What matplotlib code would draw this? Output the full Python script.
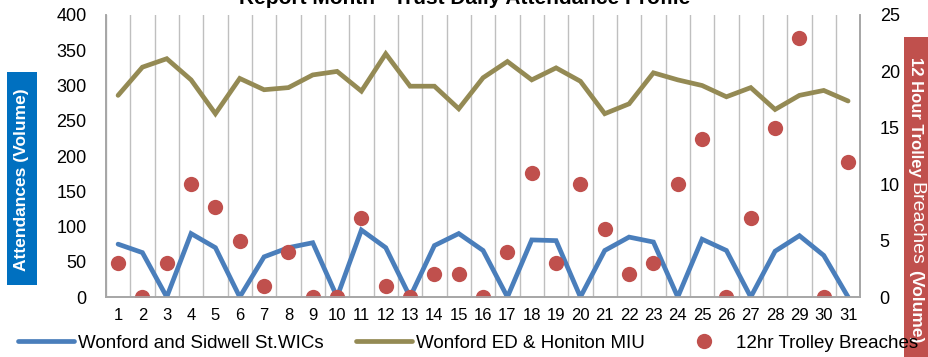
import matplotlib.pyplot as plt
from matplotlib.patches import Rectangle

plt.rcParams['font.family'] = ['Liberation Sans', 'DejaVu Sans']

days = list(range(1, 32))
wic = [75, 63, 0, 90, 70, 0, 57, 70, 77, 0, 95, 70, 0, 73, 90,
       66, 0, 81, 80, 0, 66, 85, 78, 0, 82, 66, 0, 65, 87, 59, 0]
ed_miu = [286, 326, 338, 308, 260, 310, 294, 297, 315, 320, 292, 345, 299, 299, 267,
          311, 334, 308, 325, 306, 260, 274, 318, 308, 300, 284, 297, 266, 286, 293, 278]
breaches = [3, 0, 3, 10, 8, 5, 1, 4, 0, 0, 7, 1, 0, 2, 2,
            0, 4, 11, 3, 10, 6, 2, 3, 10, 14, 0, 7, 15, 23, 0, 12]

blue = '#4A7EBB'
olive = '#948A54'
red = '#C0504D'
grey = '#A6A6A6'

W, H = 929, 357
fig = plt.figure(figsize=(W / 100, H / 100), dpi=100)
ax = fig.add_axes([0.114, 0.168, 0.812, 0.79])
ax2 = ax.twinx()

l1, = ax.plot(days, wic, color=blue, lw=3.4, solid_joinstyle='miter',
              solid_capstyle='round', zorder=3)
l2, = ax.plot(days, ed_miu, color=olive, lw=3.4, solid_joinstyle='miter',
              solid_capstyle='round', zorder=3)
l3, = ax2.plot(days, breaches, 'o', color=red, ms=11, markeredgewidth=0)

ax.set_xlim(0.5, 31.5)
ax.set_ylim(0, 400)
ax2.set_ylim(0, 25)
ax.set_xticks(days)
ax.set_xticks([d + 0.5 for d in range(0, 32)], minor=True)
ax.set_yticks(range(0, 401, 50))
ax2.set_yticks(range(0, 26, 5))
ax.grid(which='minor', axis='x', color='#BFBFBF', lw=1)
ax.tick_params(which='both', length=0)
ax2.tick_params(length=0)
ax.tick_params(axis='y', labelsize=13, pad=14)
ax.tick_params(axis='x', labelsize=12, pad=8)
ax2.tick_params(axis='y', labelsize=13, pad=14)

for a in (ax, ax2):
    a.spines['top'].set_visible(False)
    for s in ('left', 'right', 'bottom'):
        a.spines[s].set_color(grey)
        a.spines[s].set_linewidth(1.2)

fig.text(0.5, 0.989, 'Report Month - Trust Daily Attendance Profile',
         ha='center', va='baseline', fontsize=15, fontweight='bold')

# left axis caption on a blue box
fig.patches.append(Rectangle((7 / W, 1 - 285 / H), 30 / W, 213 / H,
                             transform=fig.transFigure, fc='#0070C0', ec='none', zorder=0))
fig.text(22 / W, 1 - 180 / H, 'Attendances (Volume)', rotation=90, ha='center', va='center',
         color='white', fontsize=12.5, fontweight='bold')

# right axis caption, mixed weights, on a red strip
fig.patches.append(Rectangle((904 / W, 0), 25 / W, 1 - 37 / H,
                             transform=fig.transFigure, fc=red, ec='none', zorder=0))
fig.canvas.draw()
renderer = fig.canvas.get_renderer()
y_top = 1 - 57 / H
for part, weight, size in [('12 Hour Trolley', 'bold', 12),
                           ('Breaches', 'normal', 14),
                           ('(Volume)', 'bold', 12.5)]:
    t = fig.text(916 / W, y_top, part, rotation=270, ha='center', va='top',
                 color='white', fontsize=size, fontweight=weight)
    ext = t.get_window_extent(renderer)
    y_top = fig.transFigure.inverted().transform((0, ext.y0 - 5))[1]

fig.legend([l1, l2, l3],
           ['Wonford and Sidwell St.WICs', 'Wonford ED & Honiton MIU', '12hr Trolley Breaches'],
           loc='center', bbox_to_anchor=(0.504, 0.039), ncol=3, frameon=False,
           fontsize=13.5, handlelength=3.0, handletextpad=0.2, columnspacing=1.7)

fig.savefig('out.png', dpi=100)
